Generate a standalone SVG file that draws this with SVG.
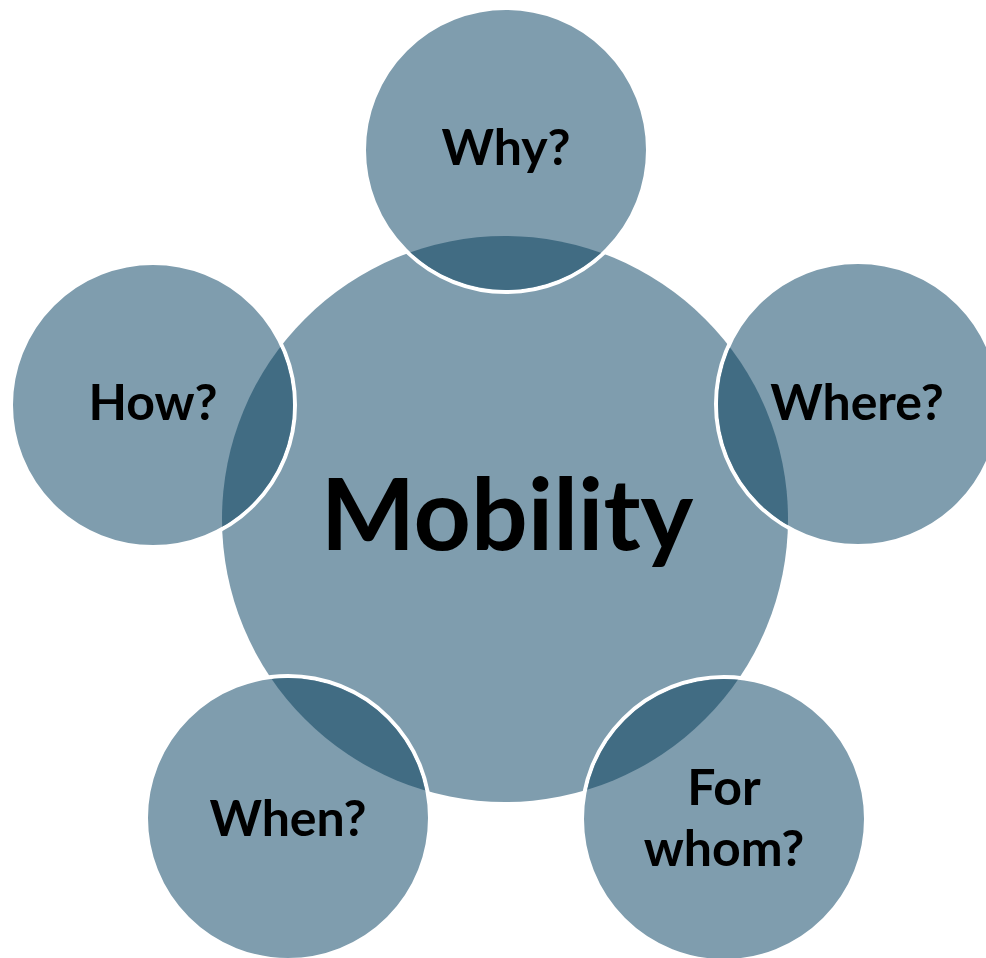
<svg xmlns="http://www.w3.org/2000/svg" width="986" height="958" viewBox="0 0 986 958">
<style>
.c{fill:#7f9dae}
.o{fill:#7f9dae;stroke:#ffffff;stroke-width:4}
.d{fill:#416c83}
.t{font-family:Lato,"Open Sans",sans-serif;font-weight:bold;fill:#000;text-anchor:middle}
.s{font-size:50px}
</style>
<defs>
<clipPath id="cc"><circle cx="505" cy="519" r="283"/></clipPath>
</defs>
<g id="mobility">
<circle class="c" cx="505" cy="519" r="283"/>
</g>
<g id="why">
<circle class="o" cx="506" cy="150" r="142"/>
<circle class="d" cx="506" cy="150" r="140" clip-path="url(#cc)"/>
<text class="t s" x="506" y="165">Why?</text>
</g>
<g id="where">
<circle class="o" cx="858" cy="404" r="142"/>
<circle class="d" cx="858" cy="404" r="140" clip-path="url(#cc)"/>
<text class="t s" x="857" y="420">Where?</text>
</g>
<g id="forwhom">
<circle class="o" cx="724" cy="819" r="142"/>
<circle class="d" cx="724" cy="819" r="140" clip-path="url(#cc)"/>
<text class="t s" x="724" y="805">For</text>
<text class="t s" x="724" y="866">whom?</text>
</g>
<g id="when">
<circle class="o" cx="288" cy="818" r="142"/>
<circle class="d" cx="288" cy="818" r="140" clip-path="url(#cc)"/>
<text class="t s" x="288" y="836">When?</text>
</g>
<g id="how">
<circle class="o" cx="153" cy="405" r="142"/>
<circle class="d" cx="153" cy="405" r="140" clip-path="url(#cc)"/>
<text class="t s" x="153" y="420">How?</text>
</g>
<g id="label">
<text class="t" x="507" y="550" font-size="100">Mobility</text>
</g>
<g id="connectors"></g>
</svg>
